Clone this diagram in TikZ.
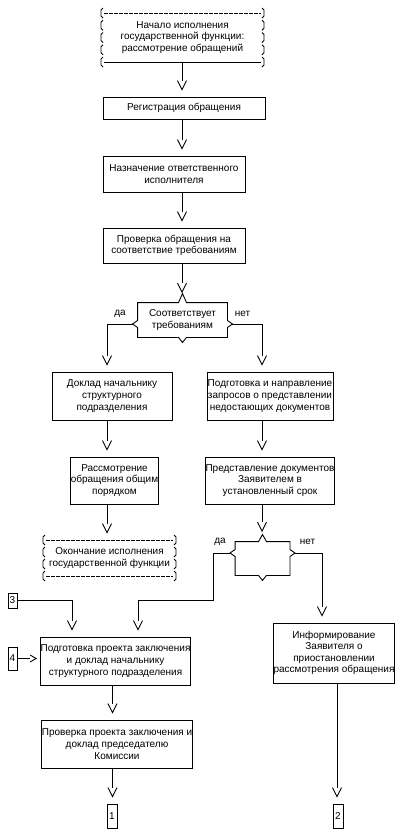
\documentclass[tikz,border=0pt]{standalone}
\usepackage{fontspec}
\setmainfont{Liberation Sans}
\usetikzlibrary{arrows.meta}
\pgfdeclarearrow{
  name = Vtip,
  defaults = {length = 9pt, width = 9pt},
  setup code = {
    \pgfarrowssettipend{0pt}
    \pgfarrowssetlineend{-\pgfarrowlength}
    \pgfarrowssetbackend{-\pgfarrowlength}
    \pgfarrowshullpoint{0pt}{0pt}
    \pgfarrowsupperhullpoint{-\pgfarrowlength}{.5\pgfarrowwidth}
    \pgfarrowssavethe\pgfarrowlength
    \pgfarrowssavethe\pgfarrowwidth
  },
  drawing code = {
    \pgfpathmoveto{\pgfqpoint{-\pgfarrowlength}{.5\pgfarrowwidth}}
    \pgfpathlineto{\pgfpointorigin}
    \pgfpathlineto{\pgfqpoint{-\pgfarrowlength}{-.5\pgfarrowwidth}}
    \pgfusepathqstroke
  },
  parameters = {\the\pgfarrowlength,\the\pgfarrowwidth},
}
\newcommand\decisionoutline[3]{%
  \draw ([xshift=-4pt]#1.north) -- (#1.north west)
    -- ([yshift=#3+3.5pt]#1.west) -- ([xshift=-5pt,yshift=#3]#1.west) -- ([yshift=#3-3.5pt]#1.west)
    -- (#1.south west) -- ([xshift=-4pt]#1.south) -- ([yshift=-5pt]#1.south) -- ([xshift=4pt]#1.south)
    -- (#1.south east) -- ([yshift=#3-3.5pt]#1.east) -- ([xshift=5pt,yshift=#3]#1.east) -- ([yshift=#3+3.5pt]#1.east)
    -- (#1.north east) -- ([xshift=4pt]#1.north) -- ([yshift=#2]#1.north) -- cycle;%
}
\begin{document}
\begin{tikzpicture}[x=1pt,y=-1pt, line width=0.9pt,
  every node/.style={font=\fontsize{10}{11.6}\selectfont, align=center, inner sep=0pt},
  box/.style={draw, rectangle},
  arr/.style={-{Vtip[length=9pt,width=9pt]}, shorten >=7pt},
  arrd/.style={-{Vtip[length=9pt,width=9pt]}, shorten >=10.5pt},
  harr/.style={-{Vtip[length=6pt,width=7pt]}, shorten >=4pt},
  dashline/.style={dash pattern=on 3.5pt off 1.5pt}
]
\useasboundingbox (0,0) rectangle (400,836);

% column coordinates
\coordinate (cA) at (182,0);
\coordinate (cB) at (107,0);
\coordinate (cC) at (262,0);
\coordinate (cF) at (322,0);
\coordinate (cG) at (337,0);
\coordinate (cH) at (112.5,0);
\coordinate (c72) at (72,0);
\coordinate (k1) at (213,600);
\coordinate (k2) at (138,600);

% start terminal
\node[minimum width=165pt, minimum height=49pt] (T0) at (182.5,37.5)
  {Начало исполнения\\государственной функции:\\рассмотрение обращений};
\foreach \yy in {13,25.25,37.5,49.75,62} {
  \draw (103,\yy-5) -- (101,\yy-3) -- (101,\yy+3) -- (103,\yy+5);
  \draw (262,\yy-5) -- (264,\yy-3) -- (264,\yy+3) -- (262,\yy+5);
}
\draw[dashline] (104,13) -- (261,13);
\draw (104,62) -- (261,62);

% boxes
\node[box, minimum width=162pt, minimum height=22pt] (B1) at (184,108) {Регистрация обращения};
\node[box, minimum width=142pt, minimum height=36pt] (B2) at (174,174) {Назначение ответственного\\исполнителя};
\node[box, minimum width=142pt, minimum height=35pt] (B3) at (174,245.5) {Проверка обращения на\\соответствие требованиям};

\node[minimum width=89pt, minimum height=34pt] (D1) at (182.5,320) {Соответствует\\требованиям};
\decisionoutline{D1}{9pt}{-4pt}
\coordinate (D1l) at ([xshift=-5pt,yshift=-4pt]D1.west);
\coordinate (D1r) at ([xshift=5pt,yshift=-4pt]D1.east);

\node[box, minimum width=120pt, minimum height=48pt] (B4) at (112,396) {Доклад начальнику\\структурного\\подразделения};
\node[box, minimum width=126pt, minimum height=48pt] (B5) at (270,396) {Подготовка и направление\\запросов о представлении\\недостающих документов};
\node[box, minimum width=85pt, minimum height=47pt] (B6) at (114.5,480.5) {Рассмотрение\\обращения общим\\порядком};
\node[box, minimum width=126pt, minimum height=47pt] (B7) at (270,480.5) {Представление документов\\Заявителем в\\установленный срок};

% end terminal
\node[minimum width=135pt, minimum height=36pt] (T1) at (109.5,558)
  {Окончание исполнения\\государственной функции};
\foreach \yy in {540,552,564,576} {
  \draw (45,\yy-5) -- (43,\yy-3) -- (43,\yy+3) -- (45,\yy+5);
  \draw (174,\yy-5) -- (176,\yy-3) -- (176,\yy+3) -- (174,\yy+5);
}
\draw[dashline] (46,540) -- (173,540);
\draw[dashline] (46,576) -- (173,576);

\node[minimum width=54pt, minimum height=33pt] (D2) at (262.5,558.5) {};
\decisionoutline{D2}{7pt}{5.5pt}
\coordinate (D2l) at ([xshift=-5pt,yshift=5.5pt]D2.west);
\coordinate (D2r) at ([xshift=5pt,yshift=5.5pt]D2.east);

\node[box, minimum width=9pt, minimum height=15pt] (N3) at (12.5,600.5) {3};
\node[box, minimum width=9pt, minimum height=23pt] (N4) at (12.5,658.5) {4};
\node[box, minimum width=147pt, minimum height=48pt] (B8) at (115.5,661) {Подготовка проекта заключения\\и доклад начальнику\\структурного подразделения};
\node[box, minimum width=112pt, minimum height=60pt] (B9) at (334,653) {Информирование\\Заявителя о\\приостановлении\\рассмотрения обращения};
\node[box, minimum width=150pt, minimum height=48pt] (B10) at (117,744) {Проверка проекта заключения и\\доклад председателю\\Комиссии};
\node[box, minimum width=10pt, minimum height=24pt] (N1) at (112,816) {1};
\node[box, minimum width=10pt, minimum height=24pt] (N2) at (338,816) {2};

% labels
\node (l1) at (120,314) {да};
\node (l2) at (242.5,314) {нет};
\node (l3) at (220,542) {да};
\node (l4) at (307.5,542) {нет};

% connectors
\draw[arr] (T0.south -| cA) -- (B1.north -| cA);
\draw[arr] (B1.south -| cA) -- (B2.north -| cA);
\draw[arr] (B2.south -| cA) -- (B3.north -| cA);
\draw[arrd] (B3.south -| cA) -- (D1.north -| cA);
\draw[arr] (D1l) -| (B4.north -| cB);
\draw[arr] (D1r) -| (B5.north -| cC);
\draw[arr] (B4.south -| cB) -- (B6.north -| cB);
\draw[arr] (B5.south -| cC) -- (B7.north -| cC);
\draw[arr] (B6.south -| cB) -- (T1.north -| cB);
\draw[arrd] (B7.south -| cC) -- (D2.north -| cC);
\draw[arr] (D2l) -| (k1) -- (k2) -- (B8.north -| k2);
\draw[arr] (N3.east) -| (B8.north -| c72);
\draw[harr] (N4.east) -- (N4.east -| B8.west);
\draw[arr] (D2r) -| (B9.north -| cF);
\draw[arr] (B8.south -| cH) -- (B10.north -| cH);
\draw[arr] (B10.south -| cH) -- (N1.north -| cH);
\draw[arr] (B9.south -| cG) -- (N2.north -| cG);
\end{tikzpicture}
\end{document}
